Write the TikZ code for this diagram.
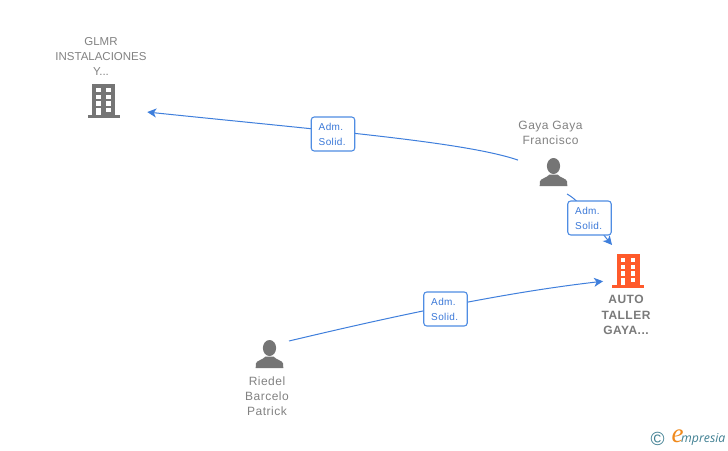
\documentclass[tikz,border=0pt]{standalone}
\usepackage{fontspec}
\setmainfont{Liberation Sans}
\newfontfamily\namefont[LetterSpace=4]{Liberation Sans}
\newfontfamily\logofont{Open Sans}
\newfontfamily\logoefont{Liberation Serif}
\usetikzlibrary{arrows.meta}
\definecolor{linkblue}{HTML}{3F7FDC}
\definecolor{boxblue}{HTML}{4F8DE3}
\definecolor{labblue}{HTML}{3A78D8}
\definecolor{icongray}{HTML}{757575}
\definecolor{txtgray}{HTML}{828282}
\definecolor{boldgray}{HTML}{7A7A7A}
\definecolor{orangeicon}{HTML}{FF5A2B}
\definecolor{logoteal}{HTML}{3F7F92}
\definecolor{logoorange}{HTML}{F08A1D}
\tikzset{
  conn/.style={draw=linkblue,line width=1pt},
  linktip/.style={-{Stealth[length=9pt,width=9pt,inset=2.5pt]}},
  lab/.style={draw=boxblue,line width=1.1pt,fill=white,rounded corners=3pt,minimum width=43.5pt,minimum height=34pt,inner sep=0pt},
  labtext/.style={font=\namefont\fontsize{10}{15}\selectfont,text=labblue,align=left},
  spot/.style={inner sep=0pt,outer sep=0pt},
  captext/.style={inner sep=0pt,align=center,font=\namefont\fontsize{12}{15}\selectfont,text=txtgray},
  capsmall/.style={inner sep=0pt,align=center,font=\fontsize{11.5}{15}\selectfont,text=txtgray},
  capbold/.style={inner sep=0pt,align=center,font=\bfseries\namefont\fontsize{12}{15.3}\selectfont,text=boldgray},
  bldg/.pic={
    \fill[pic actions] (-11.5,-31) rectangle (11.5,0);
    \fill[pic actions] (-16,0) rectangle (16,3);
    \foreach \yy in {-27,-20.3,-13.7}{
      \fill[white] (-7.2,\yy) rectangle (-2.6,\yy+4.4);
      \fill[white] (2.6,\yy) rectangle (7.2,\yy+4.4);
    }
    \fill[white] (-7.2,-7) rectangle (-2.6,0);
    \fill[white] (2.6,-7) rectangle (7.2,-3);
  },
  person/.pic={
    \fill[pic actions] (0,-7) ellipse (6.6 and 8);
    \fill[pic actions] (-13.8,13) -- (-13.6,8.5) .. controls (-13,5.5) and (-7,5) .. (-4,1.5) -- (4,1.5) .. controls (7,5) and (13,5.5) .. (13.6,8.5) -- (13.8,13) -- cycle;
  }
}
\begin{document}
\begin{tikzpicture}[x=1pt,y=-1pt]
\useasboundingbox (0,0) rectangle (728,450);
\fill[white] (0,0) rectangle (728,450);

% icon nodes
\node[spot,minimum width=32pt,minimum height=22pt] (glmr) at (103.5,107.5) {};
\node[spot,minimum width=28pt,minimum height=44pt] (gaya) at (553,172) {};
\node[spot,minimum width=40pt,minimum height=26pt] (riedel) at (269,354) {};
\node[spot,minimum width=32pt,minimum height=52pt] (auto) at (628,271) {};

\pic[fill=icongray] at (103.5,115) {bldg};
\pic[fill=orangeicon] at (628,285) {bldg};
\pic[fill=icongray] at (553.5,173) {person};
\pic[fill=icongray] at (269.5,355) {person};

% captions
\node[capsmall] (glmrcap) at (101,56) {GLMR\\INSTALACIONES\\Y...};
\node[captext] (gayacap) at (550.5,132.5) {Gaya Gaya\\Francisco};
\node[captext] (riedelcap) at (267,396) {Riedel\\Barcelo\\Patrick};
\node[capbold] (autocap) at (626,315) {AUTO\\TALLER\\GAYA...};

% connectors
\draw[conn,linktip,shorten <=37pt,shorten >=44pt] (gaya.center) .. controls (465,142) and (330,131) .. (glmr.center);
\draw[conn,linktip] (gaya.south east) .. controls (582,202) and (596,226) .. (auto.north west);
\draw[conn,linktip,shorten >=9pt] (riedel.north east) .. controls (390,317) and (500,293) .. (auto.210);

% connector labels
\node[lab] (l1) at (333,134) {};
\node[labtext,inner sep=0pt,anchor=west] (l1t) at (318.5,134.5) {Adm.\\Solid.};
\node[lab] (l2) at (589.5,218) {};
\node[labtext,inner sep=0pt,anchor=west] (l2t) at (575,218.5) {Adm.\\Solid.};
\node[lab] (l3) at (445.5,309) {};
\node[labtext,inner sep=0pt,anchor=west] (l3t) at (431,309.5) {Adm.\\Solid.};

% logo
\node[inner sep=0pt,text=logoteal,font=\fontsize{19}{19}\selectfont] (copy) at (657.5,438.5) {©};
\node[inner sep=0pt,text=logoorange,font=\logoefont\itshape\fontsize{27}{27}\selectfont] (loge) at (677.5,436.5) {e};
\node[inner sep=0pt,anchor=west,text=logoteal,font=\logofont\itshape\fontsize{12.3}{14}\selectfont] (logt) at (681,439.5) {mpresia};
\end{tikzpicture}
\end{document}
